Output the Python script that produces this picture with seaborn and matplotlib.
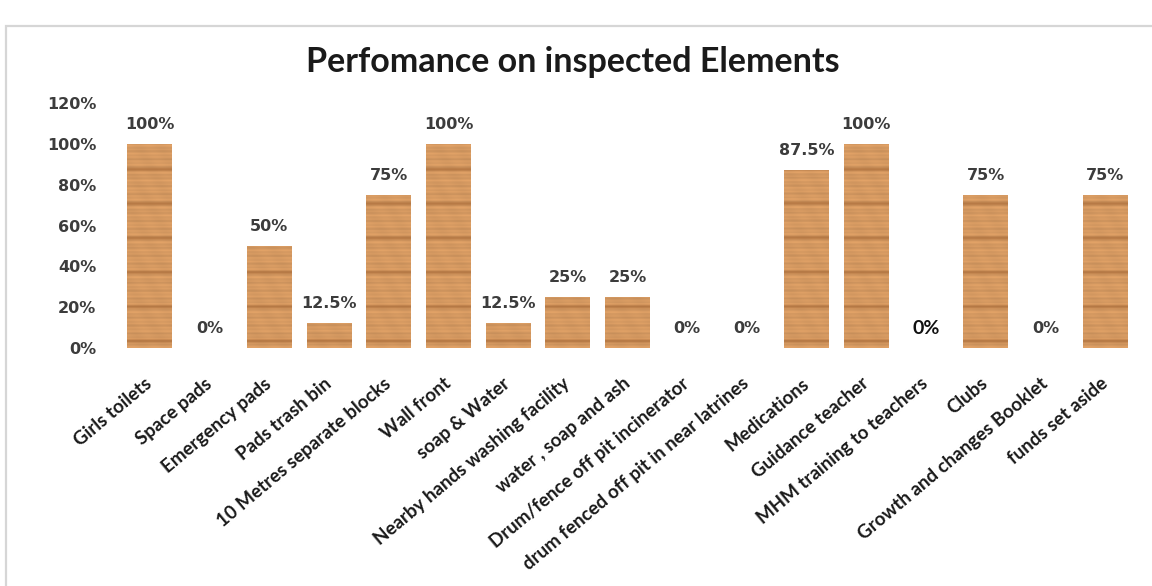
import numpy as np
import pandas as pd
import matplotlib
matplotlib.use("Agg")
import matplotlib.pyplot as plt
import seaborn as sns
from matplotlib.patches import Rectangle
from matplotlib.font_manager import FontProperties

# ---- data -------------------------------------------------------------
elements = [
    "Girls toilets", "Space pads", "Emergency pads", "Pads trash bin",
    "10 Metres separate blocks", "Wall front", "soap & Water",
    "Nearby hands washing facility", "water , soap and ash",
    "Drum/fence off pit incinerator", "drum fenced off pit in near latrines",
    "Medications", "Guidance teacher", "MHM training to teachers",
    "Clubs", "Growth and changes Booklet", "funds set aside",
]
scores = [100, 0, 50, 12.5, 75, 100, 12.5, 25, 25, 0, 0, 87.5, 100, 0, 75, 0, 75]
score_labels = ["100%", "0%", "50%", "12.5%", "75%", "100%", "12.5%", "25%",
                "25%", "0%", "0%", "87.5%", "100%", "0%", "75%", "0%", "75%"]
y_ticks = [0, 20, 40, 60, 80, 100, 120]
y_tick_labels = ["0%", "20%", "40%", "60%", "80%", "100%", "120%"]
title = "Perfomance on inspected Elements"

# ---- figure -----------------------------------------------------------
sns.set_theme(style="white")
plt.rcParams["font.family"] = ["DejaVu Sans"]

label_font = FontProperties(family="Lato", weight="bold", size=13.5)
title_font = FontProperties(family="Lato", weight="bold", size=24.5)
mhm_font = FontProperties(family="Lato", weight="bold", size=14)
num_font = FontProperties(family="DejaVu Sans", weight="bold", size=11.5)

W, H = 1152, 586
fig = plt.figure(figsize=(W / 100, H / 100), dpi=100)
fig.patch.set_facecolor("white")

# light frame around the chart area
fig.patches.append(Rectangle((6 / W, -0.05), 1.1, 1 - 26 / H + 0.05,
                             transform=fig.transFigure, fill=False,
                             edgecolor="#d6d6d6", linewidth=1.6, zorder=0))

left, right, top, bottom = 120, 1135, 103.4, 348
ax = fig.add_axes([left / W, 1 - bottom / H, (right - left) / W, (bottom - top) / H])

df = pd.DataFrame({"element": elements, "score": scores})
sns.barplot(data=df, x="element", y="score", ax=ax, color="#d39a62",
            saturation=1, width=0.75, edgecolor="none", linewidth=0)

# ---- wood grain texture clipped to each bar ---------------------------
ny = 600
yy = np.linspace(0, 120, ny)[:, None]
xx = np.linspace(0, 1, 40)[None, :]
base = np.array([0.835, 0.600, 0.380])
dark = np.array([0.68, 0.44, 0.24])
grain = (0.035 * np.sin(2 * np.pi * yy / 1.9)
         + 0.025 * np.sin(2 * np.pi * yy / 4.3 + 1.3)
         + 0.015 * np.sin(2 * np.pi * yy / 0.9 + 0.4)
         + 0.012 * np.sin(2 * np.pi * xx * 2.0 + yy / 3.0))
phase = np.mod(yy - 3.4, 16.85)
stripe = 0.8 * np.exp(-((np.minimum(phase, 16.85 - phase)) / 0.8) ** 2)
tex = base[None, None, :] * (1 + grain[..., None])
tex = tex * (1 - stripe[..., None]) + dark[None, None, :] * stripe[..., None]
tex = np.clip(tex, 0, 1)

for patch in ax.patches:
    h = patch.get_height()
    if h <= 0:
        continue
    x0 = patch.get_x()
    x1 = x0 + patch.get_width()
    im = ax.imshow(tex, extent=(x0, x1, 0, 120), origin="lower",
                   aspect="auto", interpolation="bilinear",
                   zorder=patch.get_zorder() + 0.1)
    im.set_clip_path(patch)

# ---- value labels -----------------------------------------------------
for i, (v, lab) in enumerate(zip(scores, score_labels)):
    if elements[i] == "MHM training to teachers":
        ax.annotate(lab, (i, v), xytext=(0, 14), textcoords="offset points",
                    ha="center", va="center", fontproperties=mhm_font,
                    color="#111111")
    else:
        ax.annotate(lab, (i, v), xytext=(0, 14), textcoords="offset points",
                    ha="center", va="center", fontproperties=num_font,
                    color="#3c3c3c")

# ---- axes styling -----------------------------------------------------
ax.set_xlim(-0.5, len(elements) - 0.5)
ax.set_ylim(0, 120)
ax.set_yticks(y_ticks)
ax.set_yticklabels(y_tick_labels, fontproperties=num_font, color="#3c3c3c")
ax.set_xticks(range(len(elements)))
ax.set_xticklabels(elements, rotation=40, ha="right", va="center",
                   rotation_mode="anchor", fontproperties=label_font,
                   color="#1a1a1a")
ax.tick_params(axis="y", length=0, pad=17)
ax.tick_params(axis="x", length=0, pad=24)
ax.set_xlabel("")
ax.set_ylabel("")
sns.despine(ax=ax, left=True, bottom=True)
ax.grid(False)
ax.set_facecolor("none")

fig.text(573 / W, 1 - 62 / H, title, ha="center", va="center",
         fontproperties=title_font, color="#1a1a1a")

fig.savefig("out.png", dpi=100, facecolor="white")
